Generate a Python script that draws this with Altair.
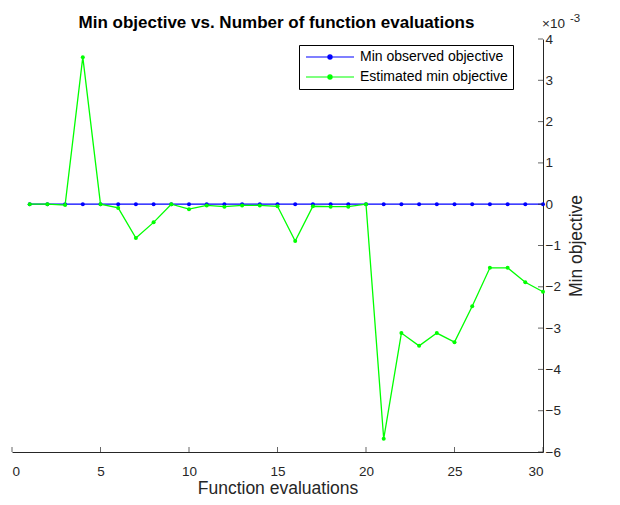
import altair as alt
import pandas as pd

# Objective values, in units of 1e-3
evals = list(range(1, 31))
min_observed = [0.0] * 30
estimated_min = [0.0, 0.0, -0.02, 3.56, 0.0, -0.09, -0.82, -0.44, 0.0, -0.12,
                 -0.03, -0.06, -0.03, -0.03, -0.05, -0.89, -0.05, -0.06, -0.06, 0.0,
                 -5.68, -3.12, -3.43, -3.12, -3.34, -2.47, -1.54, -1.54, -1.89, -2.12]
series_names = ["Min observed objective", "Estimated min objective"]
series_colors = ["#0000FF", "#00FF00"]
x_ticks = [0, 5, 10, 15, 20, 25, 30]
y_ticks = [-6, -5, -4, -3, -2, -1, 0, 1, 2, 3, 4]
chart_title = "Min objective vs. Number of function evaluations"

W, H = 531, 413
AXIS_COLOR = "#262626"
FONT = "Liberation Sans"

observed_df = pd.DataFrame({"eval": evals, "value": min_observed, "series": series_names[0]})
estimated_df = pd.DataFrame({"eval": evals, "value": estimated_min, "series": series_names[1]})
xtick_df = pd.DataFrame({"eval": x_ticks})
ytick_df = pd.DataFrame({"value": y_ticks})

x_enc = alt.X("eval:Q", title="Function evaluations",
              scale=alt.Scale(domain=[0, 30], nice=False, zero=False),
              axis=alt.Axis(values=x_ticks, tickSize=0, labelPadding=12, titlePadding=2,
                            grid=False, orient="bottom"))
y_enc = alt.Y("value:Q", title="Min objective",
              scale=alt.Scale(domain=[-6, 4], nice=False, zero=False),
              axis=alt.Axis(values=y_ticks, tickSize=0, labelPadding=2, titlePadding=25,
                            grid=False, orient="right", labelAlign="left",
                            titleAngle=270))

# Line with a dot in the middle; drawn wider than its layout box
legend_symbol = ("M-4,0L4,0M-0.35,0A0.35,0.35,0,1,0,0.35,0"
                 "A0.35,0.35,0,1,0,-0.35,0Z")
color_enc = alt.Color("series:N",
                      scale=alt.Scale(domain=series_names, range=series_colors),
                      legend=alt.Legend(title=None, orient="none", legendX=287, legendY=6,
                                        symbolType=legend_symbol, symbolSize=144,
                                        symbolStrokeWidth=1.2, symbolOffset=19,
                                        labelFontSize=14, labelFont=FONT,
                                        labelColor="#000000", labelOffset=23,
                                        strokeColor="#000000", fillColor="#FFFFFF",
                                        padding=5, rowPadding=6))

line_mark = dict(strokeWidth=1.3, point=alt.OverlayMarkDef(filled=True, size=16, opacity=1))

observed = alt.Chart(observed_df).mark_line(**line_mark).encode(x=x_enc, y=y_enc, color=color_enc)
estimated = alt.Chart(estimated_df).mark_line(**line_mark).encode(x=x_enc, y=y_enc, color=color_enc)

# Inward-pointing tick marks
xticks = alt.Chart(xtick_df).mark_tick(size=5, thickness=1, color=AXIS_COLOR).encode(
    x=x_enc, y=alt.value(H - 2.5))
yticks = alt.Chart(ytick_df).mark_tick(size=5, thickness=1, color=AXIS_COLOR).encode(
    y=y_enc, x=alt.value(W - 2.5))

# Title and axis exponent label
title_txt = alt.Chart(pd.DataFrame({"t": [chart_title]})).mark_text(
    align="center", baseline="alphabetic", fontSize=17, fontWeight="bold", font=FONT,
    color="#000000"
).encode(text="t:N", x=alt.value(W / 2 - 1), y=alt.value(-11.5))
exp_base = alt.Chart(pd.DataFrame({"t": ["\u00d710"]})).mark_text(
    align="left", baseline="alphabetic", fontSize=13.5, font=FONT, color=AXIS_COLOR
).encode(text="t:N", x=alt.value(W - 1), y=alt.value(-11))
exp_pow = alt.Chart(pd.DataFrame({"t": ["-3"]})).mark_text(
    align="left", baseline="alphabetic", fontSize=11.5, font=FONT, color=AXIS_COLOR
).encode(text="t:N", x=alt.value(W + 27), y=alt.value(-17))

chart = alt.layer(observed, estimated, xticks, yticks, title_txt, exp_base, exp_pow).properties(
    width=W, height=H,
    autosize=alt.AutoSizeParams(type="none"),
    padding={"left": 12, "top": 39, "right": 77, "bottom": 53},
).configure(background="#FFFFFF").configure_view(stroke=None).configure_axis(
    domainColor=AXIS_COLOR, domainWidth=1, labelColor=AXIS_COLOR, labelFont=FONT,
    labelFontSize=13.5, titleColor=AXIS_COLOR, titleFont=FONT, titleFontSize=17.5,
    titleFontWeight="normal"
)

chart.save("out.html", embed_options={"renderer": "svg", "actions": False})
